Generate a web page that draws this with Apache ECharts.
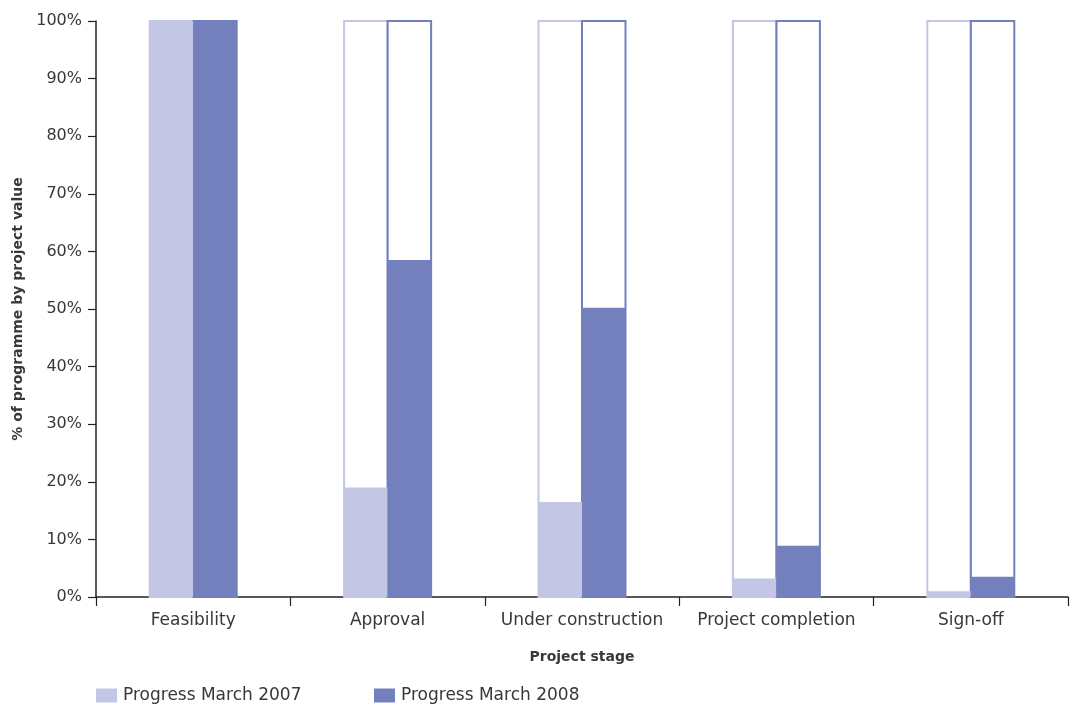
<!DOCTYPE html>
<html>
<head>
<meta charset="utf-8">
<script src="https://cdn.jsdelivr.net/npm/echarts@6/dist/echarts.min.js"></script>
<style>
  html, body { margin: 0; padding: 0; background: #ffffff; }
  #chart { width: 1072px; height: 705px; }
</style>
</head>
<body>
<div id="chart"></div>
<script>
// Project stages along the x axis
const stages = ['Feasibility', 'Approval', 'Under construction', 'Project completion', 'Sign-off'];
// Share of programme (by project value) that has reached each stage
const progress2007 = [100, 19, 16.5, 3.2, 1];
const progress2008 = [100, 58.5, 50.2, 8.9, 3.5];
const yTicks = [0, 10, 20, 30, 40, 50, 60, 70, 80, 90, 100];

const lightColor = '#c3c6e5';
const darkColor = '#7480bd';
const textColor = '#383838';
const font = 'DejaVu Sans';

const chart = echarts.init(document.getElementById('chart'), null, { renderer: 'canvas' });

const legendText = { fontFamily: font, fontSize: 17, color: textColor, padding: [0, 0, 0, 1] };

chart.setOption({
  animation: false,
  textStyle: { fontFamily: font, color: textColor },
  grid: { left: 96, right: 4, top: 21, bottom: 108, containLabel: false, outerBoundsMode: 'none' },
  legend: [
    {
      left: 96, top: 687, padding: 0, itemWidth: 21, itemHeight: 14, itemGap: 0,
      icon: 'rect', selectedMode: false, textStyle: legendText,
      data: ['Progress March 2007']
    },
    {
      left: 374, top: 687, padding: 0, itemWidth: 21, itemHeight: 14, itemGap: 0,
      icon: 'rect', selectedMode: false, textStyle: legendText,
      data: ['Progress March 2008']
    }
  ],
  xAxis: {
    type: 'category',
    data: stages,
    name: 'Project stage',
    nameLocation: 'middle',
    nameGap: 53,
    nameTextStyle: { fontFamily: font, fontSize: 14, fontWeight: 'bold', color: textColor },
    axisLine: { lineStyle: { color: '#222222', width: 1.5 } },
    axisTick: { show: true, interval: 0, alignWithLabel: false, length: 9, lineStyle: { color: '#222222', width: 1.2 } },
    axisLabel: { interval: 0, hideOverlap: false, fontFamily: font, fontSize: 17, color: textColor, margin: 15 }
  },
  yAxis: {
    type: 'value',
    min: 0, max: 100, interval: 10,
    name: '% of programme by project value',
    nameLocation: 'middle',
    nameGap: 68,
    nameTextStyle: { fontFamily: font, fontSize: 14, fontWeight: 'bold', color: textColor },
    axisLine: { show: true, lineStyle: { color: '#222222', width: 1.5 } },
    axisTick: { show: true, length: 8, lineStyle: { color: '#222222', width: 1.2 } },
    splitLine: { show: false },
    axisLabel: {
      fontFamily: font, fontSize: 16, color: textColor, margin: 14,
      formatter: v => (yTicks.includes(v) ? v + '%' : '')
    }
  },
  series: [
    {
      name: 'Progress March 2007',
      type: 'bar',
      data: progress2007,
      barWidth: 43.5,
      barGap: '0%',
      itemStyle: { color: lightColor },
      showBackground: true,
      backgroundStyle: { color: 'rgba(255,255,255,0)', borderColor: lightColor, borderWidth: 2 }
    },
    {
      name: 'Progress March 2008',
      type: 'bar',
      data: progress2008,
      barWidth: 43.5,
      barGap: '0%',
      itemStyle: { color: darkColor },
      showBackground: true,
      backgroundStyle: { color: 'rgba(255,255,255,0)', borderColor: darkColor, borderWidth: 2 }
    }
  ]
});
</script>
</body>
</html>
